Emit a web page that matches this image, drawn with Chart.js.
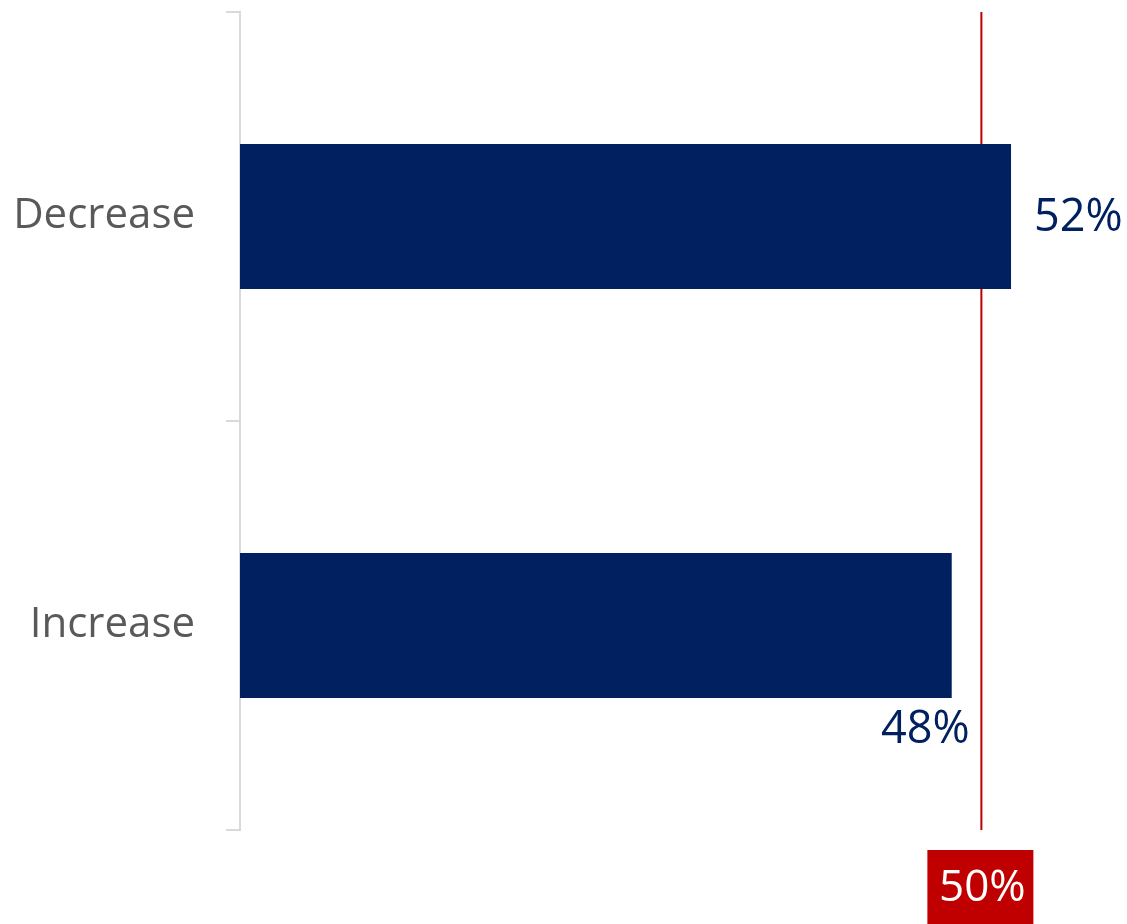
<!DOCTYPE html>
<html>
<head>
<meta charset="utf-8">
<script src="https://cdn.jsdelivr.net/npm/chart.js@4/dist/chart.umd.min.js"></script>
<style>
  body { margin: 0; background: #fff; }
  #wrap { width: 1127px; height: 924px; }
</style>
</head>
<body>
<div id="wrap"><canvas id="chart" width="1127" height="924"></canvas></div>
<script>
var categories = ['Decrease', 'Increase'];
var shares = [52, 48];
var markerValue = 50;
var markerLabel = '50%';

var navy = '#002060';
var red = '#c00000';

// labels next to / under the bars
var valueLabels = {
    id: 'valueLabels',
    afterDatasetsDraw: function (chart) {
        var ctx = chart.ctx;
        var meta = chart.getDatasetMeta(0);
        ctx.save();
        ctx.fillStyle = navy;
        ctx.font = '45px "Open Sans"';
        meta.data.forEach(function (bar, i) {
            var txt = shares[i] + '%';
            if (i === 0) {
                ctx.textAlign = 'left';
                ctx.textBaseline = 'middle';
                ctx.fillText(txt, bar.x + 23, bar.y + 2);
            } else {
                ctx.textAlign = 'right';
                ctx.textBaseline = 'top';
                ctx.fillText(txt, bar.x + 18, bar.y + bar.height / 2 + 10);
            }
        });
        ctx.restore();
    }
};

// red reference line at 50% with a boxed label below
var markerLine = {
    id: 'markerLine',
    beforeDatasetsDraw: function (chart) {
        var ctx = chart.ctx;
        var x = chart.scales.x.getPixelForValue(markerValue);
        var area = chart.chartArea;
        ctx.save();
        ctx.strokeStyle = red;
        ctx.lineWidth = 2;
        ctx.beginPath();
        ctx.moveTo(x, area.top);
        ctx.lineTo(x, area.bottom);
        ctx.stroke();
        ctx.restore();
    },
    afterDraw: function (chart) {
        var ctx = chart.ctx;
        var x = chart.scales.x.getPixelForValue(markerValue);
        var area = chart.chartArea;
        ctx.save();
        ctx.fillStyle = red;
        ctx.fillRect(x - 54, area.bottom + 20, 106, 80);
        ctx.fillStyle = '#ffffff';
        ctx.font = '44px "Open Sans"';
        ctx.textAlign = 'center';
        ctx.textBaseline = 'middle';
        ctx.fillText(markerLabel, x + 1, area.bottom + 58);
        ctx.restore();
    }
};

new Chart(document.getElementById('chart'), {
    type: 'bar',
    data: {
        labels: categories,
        datasets: [{
            data: shares,
            backgroundColor: navy,
            borderWidth: 0,
            categoryPercentage: 0.71,
            barPercentage: 0.5
        }]
    },
    options: {
        indexAxis: 'y',
        responsive: false,
        animation: false,
        devicePixelRatio: 1,
        layout: { padding: { top: 12, bottom: 94, right: 27, left: 0 } },
        plugins: {
            legend: { display: false },
            tooltip: { enabled: false }
        },
        scales: {
            x: {
                display: false,
                min: 0,
                max: 58
            },
            y: {
                afterFit: function (scale) {
                    scale.width = 240;
                    scale.paddingTop = 0;
                    scale.paddingBottom = 0;
                },
                border: { display: true, color: '#d9d9d9', width: 2 },
                grid: {
                    offset: true,
                    drawOnChartArea: false,
                    tickLength: 14,
                    color: '#d9d9d9',
                    lineWidth: 2
                },
                ticks: {
                    padding: 31,
                    color: '#595959',
                    font: { family: '"Open Sans"', size: 42 }
                }
            }
        }
    },
    plugins: [markerLine, valueLabels]
});
</script>
</body>
</html>
